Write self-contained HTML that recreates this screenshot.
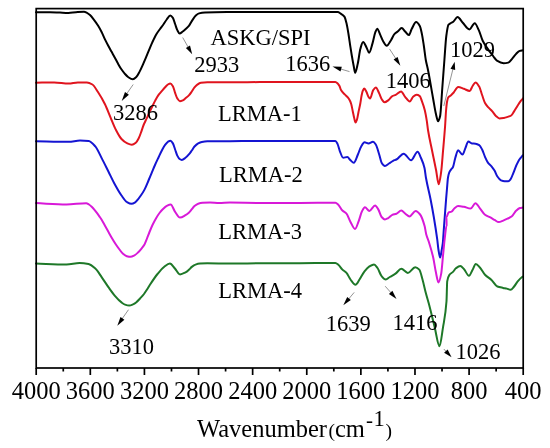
<!DOCTYPE html>
<html><head><meta charset="utf-8"><style>
html,body{margin:0;padding:0;background:#fff;}
body{width:550px;height:448px;overflow:hidden;}
svg{display:block;filter:blur(0.3px);}
text{font-family:"Liberation Serif",serif;fill:#000;}
</style></head><body>
<svg width="550" height="448" viewBox="0 0 550 448">
<rect x="0" y="0" width="550" height="448" fill="#fff"/>
<g fill="none" stroke-width="2" stroke-linejoin="round" stroke-linecap="round">
<path d="M36.00 12.30C40.67 12.27 45.33 12.20 50.00 12.20C53.33 12.20 56.67 12.47 60.00 12.60C62.80 12.71 65.60 12.90 68.40 12.90C70.93 12.90 73.47 12.36 76.00 12.20C78.67 12.03 81.33 11.80 84.00 11.80C85.00 11.80 86.00 12.34 87.00 12.80C88.00 13.26 89.00 14.10 90.00 15.00C91.33 16.20 92.67 18.06 94.00 19.80C95.33 21.54 96.67 23.37 98.00 25.50C99.20 27.42 100.40 29.63 101.60 32.00C102.77 34.30 103.93 37.21 105.10 39.60C106.20 41.85 107.30 43.93 108.40 46.00C109.37 47.82 110.33 49.55 111.30 51.30C112.43 53.35 113.57 55.32 114.70 57.40C115.80 59.42 116.90 61.65 118.00 63.60C119.13 65.61 120.27 67.64 121.40 69.30C122.50 70.91 123.60 72.35 124.70 73.60C125.83 74.88 126.97 76.24 128.10 77.00C129.67 78.05 131.23 79.30 132.80 79.30C133.97 79.30 135.13 78.10 136.30 77.00C137.40 75.96 138.50 73.64 139.60 71.60C140.67 69.63 141.73 67.17 142.80 64.80C143.83 62.51 144.87 60.03 145.90 57.60C146.93 55.17 147.97 52.65 149.00 50.20C150.10 47.59 151.20 44.80 152.30 42.40C153.60 39.56 154.90 36.69 156.20 34.50C157.47 32.36 158.73 30.75 160.00 29.00C161.13 27.43 162.27 26.10 163.40 24.50C164.50 22.95 165.60 20.89 166.70 19.50C167.90 17.98 169.10 15.60 170.30 15.60C171.17 15.60 172.03 16.65 172.90 17.80C173.63 18.77 174.37 21.95 175.10 24.00C175.83 26.05 176.57 28.68 177.30 30.10C178.07 31.58 178.83 33.50 179.60 33.50C180.53 33.50 181.47 32.46 182.40 31.80C183.50 31.02 184.60 30.01 185.70 29.00C186.83 27.96 187.97 27.02 189.10 25.60C190.20 24.22 191.30 21.72 192.40 20.10C193.53 18.43 194.67 16.60 195.80 15.60C196.90 14.63 198.00 13.69 199.10 13.40C201.07 12.88 203.03 12.60 205.00 12.50C208.33 12.32 211.67 12.25 215.00 12.20C223.33 12.09 231.67 12.00 240.00 12.00C250.00 12.00 260.00 12.00 270.00 12.00C280.00 12.00 290.00 12.00 300.00 12.00C312.63 12.00 325.27 12.01 337.90 12.10C338.73 12.11 339.57 12.88 340.40 13.40C341.73 14.24 343.07 14.85 344.40 16.70C345.07 17.62 345.73 20.21 346.40 22.80C347.07 25.39 347.73 29.53 348.40 33.50C349.07 37.47 349.73 42.61 350.40 46.90C350.83 49.69 351.27 52.46 351.70 55.00C352.37 58.91 353.03 62.57 353.70 66.00C354.17 68.40 354.63 72.80 355.10 72.80C356.00 72.80 356.90 67.37 357.80 63.50C358.67 59.77 359.53 51.70 360.40 48.70C361.30 45.58 362.20 42.00 363.10 42.00C364.23 42.00 365.37 45.35 366.50 47.40C367.37 48.97 368.23 52.80 369.10 52.80C370.23 52.80 371.37 47.12 372.50 43.40C373.40 40.45 374.30 35.01 375.20 32.70C375.87 30.99 376.53 28.80 377.20 28.80C378.30 28.80 379.40 33.07 380.50 35.40C381.33 37.17 382.17 39.61 383.00 41.00C384.23 43.06 385.47 45.80 386.70 45.80C388.13 45.80 389.57 42.38 391.00 40.20C392.13 38.48 393.27 35.34 394.40 34.10C395.50 32.90 396.60 32.40 397.70 31.50C399.03 30.41 400.37 28.10 401.70 28.10C402.83 28.10 403.97 30.38 405.10 31.50C406.33 32.72 407.57 35.10 408.80 35.10C409.80 35.10 410.80 30.60 411.80 28.80C413.23 26.21 414.67 22.10 416.10 22.10C417.33 22.10 418.57 23.92 419.80 26.10C420.47 27.28 421.13 30.45 421.80 33.50C422.47 36.55 423.13 41.12 423.80 45.50C424.47 49.88 425.13 56.26 425.80 60.00C426.53 64.11 427.27 66.37 428.00 70.00C429.67 78.25 431.33 88.82 433.00 98.00C434.00 103.51 435.00 110.23 436.00 114.30C436.70 117.15 437.40 121.30 438.10 121.30C438.77 121.30 439.43 119.06 440.10 116.30C440.83 113.26 441.57 97.60 442.30 88.00C443.00 78.83 443.70 69.08 444.40 60.00C445.03 51.79 445.67 40.67 446.30 36.00C447.03 30.59 447.77 25.63 448.50 24.70C449.13 23.90 449.77 23.69 450.40 23.30C451.37 22.71 452.33 22.47 453.30 21.80C454.70 20.83 456.10 17.10 457.50 17.10C459.27 17.10 461.03 20.97 462.80 22.80C465.00 25.08 467.20 29.40 469.40 29.40C471.17 29.40 472.93 23.30 474.70 23.30C476.10 23.30 477.50 27.46 478.90 30.40C480.17 33.06 481.43 38.20 482.70 40.80C484.27 44.01 485.83 46.10 487.40 48.40C489.30 51.19 491.20 53.57 493.10 56.00C494.37 57.62 495.63 59.94 496.90 60.70C499.13 62.05 501.37 63.20 503.60 63.20C505.17 63.20 506.73 62.96 508.30 62.60C509.57 62.31 510.83 60.20 512.10 58.80C513.37 57.40 514.63 55.37 515.90 54.10C517.17 52.83 518.43 51.27 519.70 50.90C520.80 50.58 521.90 50.50 523.00 50.30" stroke="#000000"/>
<path d="M36.00 82.70C42.07 82.60 48.13 82.40 54.20 82.40C59.03 82.40 63.87 83.60 68.70 83.60C71.73 83.60 74.77 82.40 77.80 82.40C80.83 82.40 83.87 82.40 86.90 82.40C88.73 82.40 90.57 83.41 92.40 84.50C94.20 85.57 96.00 89.08 97.80 91.80C100.23 95.48 102.67 99.58 105.10 104.50C106.90 108.14 108.70 113.09 110.50 117.30C112.33 121.59 114.17 126.49 116.00 130.00C117.83 133.51 119.67 137.07 121.50 139.00C123.30 140.90 125.10 142.38 126.90 143.20C128.53 143.95 130.17 144.80 131.80 144.80C133.13 144.80 134.47 143.84 135.80 142.80C136.73 142.07 137.67 140.29 138.60 138.50C139.40 136.97 140.20 134.64 141.00 132.50C141.87 130.18 142.73 127.13 143.60 125.00C144.63 122.46 145.67 120.68 146.70 118.40C147.63 116.34 148.57 113.99 149.50 112.00C150.47 109.94 151.43 108.13 152.40 106.20C153.33 104.33 154.27 102.33 155.20 100.60C156.27 98.62 157.33 96.60 158.40 95.10C159.50 93.56 160.60 92.48 161.70 91.20C162.83 89.88 163.97 88.51 165.10 87.30C166.03 86.30 166.97 85.08 167.90 84.50C168.70 84.00 169.50 83.40 170.30 83.40C171.17 83.40 172.03 84.80 172.90 86.20C173.63 87.38 174.37 90.89 175.10 92.90C175.83 94.91 176.57 97.28 177.30 98.40C178.17 99.72 179.03 101.20 179.90 101.20C180.90 101.20 181.90 100.74 182.90 100.30C183.77 99.92 184.63 99.01 185.50 98.30C186.70 97.31 187.90 96.39 189.10 95.10C190.00 94.13 190.90 92.78 191.80 91.50C192.70 90.22 193.60 88.49 194.50 87.40C195.43 86.27 196.37 85.23 197.30 84.60C198.50 83.79 199.70 82.97 200.90 82.80C203.03 82.49 205.17 82.30 207.30 82.30C214.87 82.30 222.43 82.30 230.00 82.30C240.00 82.30 250.00 82.14 260.00 82.10C273.33 82.05 286.67 82.04 300.00 82.00C311.80 81.97 323.60 81.90 335.40 81.90C336.17 81.90 336.93 82.70 337.70 83.40C338.30 83.95 338.90 84.86 339.50 86.00C340.00 86.95 340.50 89.24 341.00 90.10C342.23 92.23 343.47 93.10 344.70 94.40C345.80 95.56 346.90 96.24 348.00 97.60C348.57 98.30 349.13 99.20 349.70 100.30C350.20 101.27 350.70 102.39 351.20 104.00C351.73 105.72 352.27 109.01 352.80 111.50C353.27 113.68 353.73 116.13 354.20 118.00C354.63 119.74 355.07 122.60 355.50 122.60C356.00 122.60 356.50 120.96 357.00 119.50C357.50 118.04 358.00 114.43 358.50 112.00C359.10 109.08 359.70 106.73 360.30 103.50C360.73 101.17 361.17 97.55 361.60 95.50C362.03 93.45 362.47 91.37 362.90 90.50C363.37 89.56 363.83 88.60 364.30 88.60C365.03 88.60 365.77 90.59 366.50 92.00C367.10 93.16 367.70 95.51 368.30 96.50C368.87 97.43 369.43 98.60 370.00 98.60C371.07 98.60 372.13 91.67 373.20 90.10C374.07 88.83 374.93 87.40 375.80 87.40C376.93 87.40 378.07 91.14 379.20 93.40C380.10 95.19 381.00 98.19 381.90 99.50C382.77 100.76 383.63 102.30 384.50 102.30C385.83 102.30 387.17 101.06 388.50 100.10C389.80 99.17 391.10 96.83 392.40 96.10C393.50 95.48 394.60 95.32 395.70 94.80C397.50 93.94 399.30 91.40 401.10 91.40C402.43 91.40 403.77 95.26 405.10 96.80C406.67 98.61 408.23 101.50 409.80 101.50C410.90 101.50 412.00 97.72 413.10 96.80C414.23 95.85 415.37 94.80 416.50 94.80C417.60 94.80 418.70 95.31 419.80 96.10C420.47 96.58 421.13 99.03 421.80 100.80C422.80 103.46 423.80 106.18 424.80 110.20C425.47 112.88 426.13 116.66 426.80 120.90C427.20 123.45 427.60 127.48 428.00 130.00C429.33 138.39 430.67 143.57 432.00 150.20C433.37 157.00 434.73 163.26 436.10 170.30C436.97 174.76 437.83 184.30 438.70 184.30C439.50 184.30 440.30 177.87 441.10 172.30C441.77 167.66 442.43 157.90 443.10 150.20C443.77 142.50 444.43 135.33 445.10 126.00C445.43 121.33 445.77 113.79 446.10 110.00C446.40 106.59 446.70 103.61 447.00 102.00C447.40 99.85 447.80 98.08 448.20 97.50C449.07 96.25 449.93 96.17 450.80 95.40C451.77 94.54 452.73 93.57 453.70 92.50C455.17 90.88 456.63 87.00 458.10 87.00C460.03 87.00 461.97 88.14 463.90 88.80C465.83 89.46 467.77 91.00 469.70 91.00C470.67 91.00 471.63 87.37 472.60 86.00C473.57 84.63 474.53 82.50 475.50 82.50C476.73 82.50 477.97 84.59 479.20 86.60C480.17 88.18 481.13 92.27 482.10 95.00C483.07 97.73 484.03 101.26 485.00 103.00C486.20 105.15 487.40 106.34 488.60 107.70C489.83 109.10 491.07 110.02 492.30 111.40C493.50 112.75 494.70 114.95 495.90 116.00C497.10 117.05 498.30 118.40 499.50 118.40C500.97 118.40 502.43 118.14 503.90 117.90C505.10 117.70 506.30 117.28 507.50 116.90C508.73 116.51 509.97 116.25 511.20 115.50C512.17 114.91 513.13 112.86 514.10 111.40C515.30 109.58 516.50 107.36 517.70 105.50C518.67 104.00 519.63 102.48 520.60 101.20C521.40 100.14 522.20 99.27 523.00 98.30" stroke="#e0141e"/>
<path d="M36.00 141.30C46.90 141.47 57.80 141.80 68.70 141.80C72.47 141.80 76.23 140.50 80.00 140.50C82.90 140.50 85.80 140.64 88.70 140.90C90.90 141.10 93.10 143.87 95.30 146.40C97.47 148.89 99.63 154.26 101.80 158.40C104.00 162.61 106.20 167.12 108.40 171.50C110.57 175.82 112.73 180.56 114.90 184.50C117.10 188.50 119.30 192.44 121.50 195.50C123.30 198.00 125.10 200.95 126.90 202.00C128.43 202.89 129.97 203.80 131.50 203.80C132.73 203.80 133.97 203.11 135.20 202.40C136.13 201.86 137.07 200.43 138.00 199.30C139.00 198.09 140.00 196.76 141.00 195.30C142.17 193.59 143.33 191.81 144.50 189.60C145.90 186.95 147.30 183.28 148.70 180.00C149.63 177.81 150.57 175.52 151.50 173.30C152.67 170.52 153.83 167.63 155.00 165.00C156.17 162.37 157.33 159.96 158.50 157.50C159.70 154.96 160.90 152.26 162.10 150.00C163.10 148.11 164.10 146.12 165.10 144.80C166.03 143.57 166.97 142.33 167.90 141.80C168.77 141.31 169.63 140.80 170.50 140.80C171.30 140.80 172.10 142.15 172.90 143.40C173.63 144.55 174.37 147.47 175.10 149.50C175.83 151.53 176.57 154.18 177.30 155.60C178.07 157.08 178.83 158.51 179.60 159.00C180.33 159.47 181.07 159.90 181.80 159.90C183.03 159.90 184.27 158.69 185.50 157.80C186.70 156.93 187.90 155.60 189.10 154.20C190.00 153.15 190.90 151.78 191.80 150.50C192.70 149.22 193.60 147.50 194.50 146.50C195.73 145.13 196.97 143.96 198.20 143.30C199.40 142.66 200.60 142.11 201.80 141.90C203.63 141.57 205.47 141.32 207.30 141.30C214.87 141.22 222.43 141.24 230.00 141.20C240.00 141.15 250.00 141.00 260.00 141.00C273.33 141.00 286.67 141.00 300.00 141.00C311.80 141.00 323.60 140.90 335.40 140.90C336.10 140.90 336.80 142.54 337.50 143.90C338.30 145.45 339.10 149.35 339.90 151.30C341.00 153.98 342.10 157.80 343.20 157.80C344.57 157.80 345.93 157.00 347.30 157.00C348.37 157.00 349.43 159.39 350.50 160.30C351.60 161.24 352.70 162.70 353.80 162.70C355.17 162.70 356.53 157.52 357.90 154.50C359.00 152.07 360.10 148.21 361.20 146.40C362.30 144.59 363.40 142.30 364.50 142.30C365.83 142.30 367.17 143.40 368.50 143.40C370.00 143.40 371.50 141.80 373.00 141.80C373.97 141.80 374.93 143.27 375.90 144.70C377.00 146.33 378.10 150.99 379.20 154.50C380.00 157.05 380.80 161.43 381.60 162.70C382.70 164.45 383.80 166.00 384.90 166.00C386.27 166.00 387.63 164.37 389.00 163.50C390.37 162.63 391.73 161.47 393.10 160.80C394.20 160.26 395.30 160.06 396.40 159.50C398.83 158.27 401.27 153.70 403.70 153.70C406.17 153.70 408.63 160.30 411.10 160.30C413.27 160.30 415.43 151.80 417.60 151.80C418.73 151.80 419.87 155.48 421.00 158.00C422.17 160.59 423.33 163.07 424.50 168.00C425.00 170.11 425.50 175.17 426.00 178.00C427.50 186.48 429.00 191.42 430.50 199.00C431.60 204.56 432.70 210.46 433.80 217.00C434.93 223.73 436.07 230.76 437.20 239.20C437.63 242.43 438.07 247.38 438.50 250.00C439.03 253.23 439.57 257.50 440.10 257.50C440.63 257.50 441.17 252.87 441.70 250.00C442.07 248.03 442.43 246.33 442.80 243.20C443.17 240.07 443.53 233.04 443.90 228.10C444.63 218.22 445.37 208.15 446.10 199.10C446.40 195.40 446.70 191.91 447.00 188.50C447.33 184.71 447.67 179.50 448.00 177.50C448.43 174.91 448.87 173.30 449.30 172.30C449.87 170.99 450.43 170.41 451.00 169.60C451.67 168.64 452.33 168.29 453.00 167.00C453.73 165.58 454.47 160.70 455.20 158.30C456.17 155.13 457.13 150.30 458.10 150.30C459.57 150.30 461.03 154.60 462.50 154.60C463.47 154.60 464.43 150.28 465.40 148.10C466.37 145.92 467.33 141.50 468.30 141.50C469.50 141.50 470.70 143.38 471.90 143.50C473.10 143.62 474.30 143.58 475.50 143.70C476.73 143.82 477.97 144.40 479.20 145.20C480.17 145.83 481.13 147.70 482.10 149.50C483.07 151.30 484.03 154.65 485.00 156.80C485.97 158.95 486.93 161.27 487.90 162.60C489.10 164.25 490.30 164.86 491.50 166.30C492.50 167.50 493.50 168.92 494.50 170.60C495.47 172.23 496.43 175.12 497.40 176.50C498.60 178.22 499.80 179.91 501.00 180.40C502.20 180.89 503.40 181.30 504.60 181.30C505.83 181.30 507.07 181.30 508.30 181.30C509.03 181.30 509.77 180.30 510.50 179.40C511.47 178.21 512.43 175.11 513.40 172.80C514.37 170.49 515.33 167.65 516.30 165.50C517.27 163.35 518.23 161.15 519.20 159.70C520.47 157.79 521.73 156.70 523.00 155.20" stroke="#1414d2"/>
<path d="M36.00 203.10C46.17 203.53 56.33 204.40 66.50 204.40C73.07 204.40 79.63 203.20 86.20 203.20C87.13 203.20 88.07 203.95 89.00 204.50C89.90 205.03 90.80 205.86 91.70 206.70C92.63 207.58 93.57 208.68 94.50 209.80C95.37 210.84 96.23 212.02 97.10 213.20C97.90 214.29 98.70 215.44 99.50 216.60C100.27 217.71 101.03 218.76 101.80 220.00C102.87 221.73 103.93 223.89 105.00 225.80C106.17 227.89 107.33 229.93 108.50 232.00C109.67 234.07 110.83 236.23 112.00 238.20C113.30 240.40 114.60 242.56 115.90 244.50C117.10 246.29 118.30 247.94 119.50 249.50C120.67 251.02 121.83 252.82 123.00 253.80C124.27 254.86 125.53 255.88 126.80 256.20C128.07 256.52 129.33 256.80 130.60 256.80C131.90 256.80 133.20 255.98 134.50 255.30C135.67 254.69 136.83 253.59 138.00 252.50C139.10 251.47 140.20 250.15 141.30 248.80C142.37 247.50 143.43 246.36 144.50 244.50C145.33 243.05 146.17 240.58 147.00 238.50C147.83 236.42 148.67 234.05 149.50 232.00C150.50 229.54 151.50 227.09 152.50 225.00C153.70 222.49 154.90 220.23 156.10 218.20C157.23 216.29 158.37 214.48 159.50 213.00C160.67 211.47 161.83 210.11 163.00 209.00C164.27 207.79 165.53 206.53 166.80 205.90C168.10 205.25 169.40 204.50 170.70 204.50C172.07 204.50 173.43 209.37 174.80 211.30C176.53 213.74 178.27 217.60 180.00 217.60C181.83 217.60 183.67 216.16 185.50 215.10C186.70 214.41 187.90 213.51 189.10 212.40C190.00 211.56 190.90 210.27 191.80 209.20C192.70 208.13 193.60 206.75 194.50 206.00C195.73 204.98 196.97 204.08 198.20 203.70C199.70 203.24 201.20 202.94 202.70 202.80C205.13 202.58 207.57 202.40 210.00 202.40C213.03 202.40 216.07 203.10 219.10 203.10C222.73 203.10 226.37 202.60 230.00 202.60C240.00 202.60 250.00 203.00 260.00 203.00C273.33 203.00 286.67 203.00 300.00 203.00C311.80 203.00 323.60 202.70 335.40 202.70C336.37 202.70 337.33 203.82 338.30 204.70C339.67 205.94 341.03 209.13 342.40 210.50C343.77 211.87 345.13 212.15 346.50 213.70C347.83 215.21 349.17 219.54 350.50 221.90C352.00 224.56 353.50 228.90 355.00 228.90C356.23 228.90 357.47 224.15 358.70 221.10C359.80 218.38 360.90 213.39 362.00 211.30C362.97 209.46 363.93 207.20 364.90 207.20C366.40 207.20 367.90 210.90 369.40 210.90C371.30 210.90 373.20 205.50 375.10 205.50C376.20 205.50 377.30 207.82 378.40 209.60C379.47 211.33 380.53 215.78 381.60 217.00C382.70 218.26 383.80 219.50 384.90 219.50C386.00 219.50 387.10 218.70 388.20 218.10C389.57 217.36 390.93 215.48 392.30 214.90C393.67 214.32 395.03 214.25 396.40 213.70C398.03 213.05 399.67 210.50 401.30 210.50C402.67 210.50 404.03 212.70 405.40 213.70C406.77 214.70 408.13 216.50 409.50 216.50C411.57 216.50 413.63 210.90 415.70 210.90C417.17 210.90 418.63 212.69 420.10 214.50C421.60 216.36 423.10 220.60 424.60 226.00C425.13 227.92 425.67 232.19 426.20 234.20C427.03 237.34 427.87 238.77 428.70 241.40C430.20 246.14 431.70 250.87 433.20 257.50C434.07 261.33 434.93 267.80 435.80 271.80C436.70 275.95 437.60 282.50 438.50 282.50C439.40 282.50 440.30 278.21 441.20 273.60C441.80 270.53 442.40 261.65 443.00 255.70C443.60 249.75 444.20 242.80 444.80 237.90C445.40 233.00 446.00 225.40 446.60 225.40C446.57 225.40 446.53 217.00 446.50 217.00C447.20 217.00 447.90 212.62 448.60 212.30C449.57 211.86 450.53 211.98 451.50 211.60C452.50 211.21 453.50 209.09 454.50 208.30C455.70 207.35 456.90 206.10 458.10 206.10C460.03 206.10 461.97 206.48 463.90 206.80C466.10 207.17 468.30 208.60 470.50 208.60C472.17 208.60 473.83 203.20 475.50 203.20C476.97 203.20 478.43 206.52 479.90 208.30C481.60 210.36 483.30 213.57 485.00 214.80C486.93 216.20 488.87 216.64 490.80 217.70C492.03 218.37 493.27 219.22 494.50 219.90C495.93 220.69 497.37 222.10 498.80 222.10C500.27 222.10 501.73 221.16 503.20 220.60C504.63 220.05 506.07 219.40 507.50 218.70C508.97 217.98 510.43 217.43 511.90 216.30C513.37 215.17 514.83 211.82 516.30 210.50C517.50 209.42 518.70 208.31 519.90 208.00C520.93 207.73 521.97 207.67 523.00 207.50" stroke="#d819d8"/>
<path d="M36.00 263.50C46.17 263.87 56.33 264.60 66.50 264.60C70.87 264.60 75.23 263.10 79.60 263.10C82.57 263.10 85.53 263.46 88.50 264.00C90.77 264.41 93.03 266.48 95.30 268.50C97.47 270.43 99.63 274.23 101.80 277.30C104.00 280.42 106.20 284.00 108.40 287.10C110.57 290.15 112.73 293.32 114.90 295.80C117.10 298.32 119.30 300.74 121.50 302.40C122.67 303.28 123.83 304.22 125.00 304.60C126.40 305.05 127.80 305.50 129.20 305.50C130.47 305.50 131.73 304.91 133.00 304.40C134.13 303.94 135.27 303.10 136.40 302.20C137.60 301.25 138.80 299.79 140.00 298.50C141.33 297.07 142.67 295.73 144.00 294.00C145.00 292.71 146.00 291.05 147.00 289.50C147.93 288.05 148.87 286.42 149.80 285.00C152.37 281.08 154.93 277.14 157.50 274.00C159.67 271.35 161.83 268.65 164.00 267.00C165.97 265.50 167.93 263.50 169.90 263.50C171.57 263.50 173.23 266.71 174.90 268.50C176.60 270.32 178.30 274.40 180.00 274.40C181.83 274.40 183.67 273.33 185.50 272.40C186.70 271.79 187.90 270.66 189.10 269.60C190.00 268.81 190.90 267.60 191.80 266.90C193.03 265.94 194.27 265.01 195.50 264.60C197.00 264.10 198.50 263.71 200.00 263.60C202.43 263.42 204.87 263.30 207.30 263.30C214.87 263.30 222.43 263.50 230.00 263.50C240.00 263.50 250.00 263.34 260.00 263.30C273.33 263.25 286.67 263.25 300.00 263.20C311.80 263.16 323.60 263.00 335.40 263.00C336.37 263.00 337.33 263.95 338.30 264.70C339.67 265.75 341.03 268.29 342.40 269.60C343.77 270.91 345.13 271.42 346.50 272.90C347.83 274.34 349.17 277.78 350.50 279.50C352.17 281.64 353.83 284.70 355.50 284.70C356.83 284.70 358.17 281.43 359.50 279.50C361.17 277.09 362.83 273.37 364.50 271.30C366.13 269.27 367.77 267.39 369.40 266.40C370.93 265.47 372.47 264.40 374.00 264.40C375.17 264.40 376.33 266.43 377.50 268.00C378.87 269.84 380.23 274.63 381.60 276.20C382.97 277.77 384.33 279.50 385.70 279.50C387.07 279.50 388.43 277.81 389.80 277.00C391.70 275.87 393.60 275.00 395.50 273.70C397.43 272.37 399.37 268.80 401.30 268.80C403.47 268.80 405.63 272.90 407.80 272.90C410.27 272.90 412.73 267.20 415.20 267.20C416.57 267.20 417.93 268.22 419.30 269.60C420.37 270.68 421.43 275.75 422.50 279.50C423.57 283.25 424.63 288.44 425.70 292.50C426.73 296.43 427.77 299.71 428.80 303.60C430.77 311.00 432.73 319.48 434.70 327.30C436.30 333.66 437.90 346.20 439.50 346.20C440.67 346.20 441.83 334.60 443.00 327.30C444.17 320.00 445.33 317.10 446.50 301.30C446.73 298.14 446.97 282.87 447.20 281.40C447.93 276.77 448.67 275.78 449.40 274.80C450.60 273.20 451.80 273.08 453.00 271.90C453.97 270.95 454.93 269.01 455.90 268.30C457.37 267.22 458.83 266.10 460.30 266.10C461.50 266.10 462.70 267.81 463.90 269.00C465.60 270.68 467.30 275.80 469.00 275.80C470.20 275.80 471.40 271.80 472.60 269.70C473.67 267.83 474.73 263.90 475.80 263.90C477.17 263.90 478.53 266.03 479.90 267.50C481.60 269.33 483.30 273.06 485.00 274.80C487.17 277.02 489.33 277.90 491.50 279.90C493.47 281.72 495.43 285.72 497.40 286.50C499.33 287.27 501.27 287.49 503.20 287.90C504.40 288.16 505.60 288.31 506.80 288.60C508.03 288.90 509.27 289.80 510.50 289.80C511.70 289.80 512.90 287.84 514.10 286.50C515.30 285.16 516.50 282.82 517.70 281.40C519.17 279.67 520.63 277.99 522.10 277.00C522.40 276.80 522.70 276.67 523.00 276.50" stroke="#1e7828"/>
</g>
<rect x="36.2" y="8.6" width="487.0" height="359.4" fill="none" stroke="#000" stroke-width="1.7"/>
<g stroke="#000" stroke-width="1.7">
<line x1="36.20" y1="368.0" x2="36.20" y2="375.0"/>
<line x1="63.26" y1="368.0" x2="63.26" y2="371.5"/>
<line x1="90.31" y1="368.0" x2="90.31" y2="375.0"/>
<line x1="117.37" y1="368.0" x2="117.37" y2="371.5"/>
<line x1="144.42" y1="368.0" x2="144.42" y2="375.0"/>
<line x1="171.48" y1="368.0" x2="171.48" y2="371.5"/>
<line x1="198.53" y1="368.0" x2="198.53" y2="375.0"/>
<line x1="225.59" y1="368.0" x2="225.59" y2="371.5"/>
<line x1="252.64" y1="368.0" x2="252.64" y2="375.0"/>
<line x1="279.70" y1="368.0" x2="279.70" y2="371.5"/>
<line x1="306.76" y1="368.0" x2="306.76" y2="375.0"/>
<line x1="333.81" y1="368.0" x2="333.81" y2="371.5"/>
<line x1="360.87" y1="368.0" x2="360.87" y2="375.0"/>
<line x1="387.92" y1="368.0" x2="387.92" y2="371.5"/>
<line x1="414.98" y1="368.0" x2="414.98" y2="375.0"/>
<line x1="442.03" y1="368.0" x2="442.03" y2="371.5"/>
<line x1="469.09" y1="368.0" x2="469.09" y2="375.0"/>
<line x1="496.14" y1="368.0" x2="496.14" y2="371.5"/>
<line x1="523.20" y1="368.0" x2="523.20" y2="375.0"/>
</g>
<g>
<line x1="182.7" y1="37.5" x2="188.4" y2="47.6" stroke="#888" stroke-width="0.9"/>
<polygon points="192.2,54.2 185.9,47.9 190.0,45.5" fill="#000"/>
<line x1="133.2" y1="84.5" x2="126.4" y2="94.2" stroke="#888" stroke-width="0.9"/>
<polygon points="121.7,100.9 125.0,92.0 128.9,94.7" fill="#000"/>
<line x1="349.5" y1="71.6" x2="340.2" y2="68.9" stroke="#888" stroke-width="0.9"/>
<polygon points="332.5,66.6 341.8,66.8 340.5,71.4" fill="#000"/>
<line x1="389.5" y1="48.9" x2="396.2" y2="59.2" stroke="#888" stroke-width="0.9"/>
<polygon points="400.4,65.7 393.6,59.6 397.6,57.0" fill="#000"/>
<line x1="443.8" y1="106.0" x2="453.1" y2="68.4" stroke="#888" stroke-width="0.9"/>
<polygon points="454.7,61.8 455.2,69.9 450.5,68.8" fill="#000"/>
<line x1="128.5" y1="309.7" x2="121.9" y2="319.1" stroke="#888" stroke-width="0.9"/>
<polygon points="117.3,325.7 120.5,317.0 124.4,319.7" fill="#000"/>
<line x1="354.2" y1="292.4" x2="348.4" y2="299.3" stroke="#888" stroke-width="0.9"/>
<polygon points="343.3,305.2 347.2,296.9 350.8,300.1" fill="#000"/>
<line x1="385.2" y1="286.2" x2="391.3" y2="293.1" stroke="#888" stroke-width="0.9"/>
<polygon points="396.5,298.9 388.9,293.9 392.4,290.7" fill="#000"/>
<line x1="443.8" y1="349.0" x2="446.5" y2="351.9" stroke="#888" stroke-width="0.9"/>
<polygon points="451.6,357.3 444.1,352.8 447.6,349.5" fill="#000"/>
</g>
<g font-size="22.5" text-anchor="middle">
<text x="260.6" y="44.9">ASKG/SPI</text>
<text x="216.8" y="71.5">2933</text>
<text x="307.8" y="71.1">1636</text>
<text x="408.2" y="88.4">1406</text>
<text x="472.4" y="57.0">1029</text>
<text x="135.4" y="119.5">3286</text>
<text x="259.8" y="121.0">LRMA-1</text>
<text x="260.8" y="181.9">LRMA-2</text>
<text x="260.2" y="238.7">LRMA-3</text>
<text x="260.2" y="297.9">LRMA-4</text>
<text x="131.6" y="354.1">3310</text>
<text x="348.2" y="330.5">1639</text>
<text x="415.0" y="329.7">1416</text>
<text x="478.0" y="358.5">1026</text>
</g>
<g font-size="24.5" text-anchor="middle">
<text x="36.20" y="399.0">4000</text>
<text x="90.31" y="399.0">3600</text>
<text x="144.42" y="399.0">3200</text>
<text x="198.53" y="399.0">2800</text>
<text x="252.64" y="399.0">2400</text>
<text x="306.76" y="399.0">2000</text>
<text x="360.87" y="399.0">1600</text>
<text x="414.98" y="399.0">1200</text>
<text x="469.09" y="399.0">800</text>
<text x="523.20" y="399.0">400</text>
</g>
<g font-size="24.5"><text x="197" y="437.2">Wavenumber</text>
<text x="328.5" y="436.6" font-size="19.5">(</text>
<text x="335" y="437.2">cm</text>
<text x="366" y="426.6" font-size="21">-</text>
<text x="373.6" y="426.3" font-size="22.5">1</text>
<text x="385.5" y="436.6" font-size="19.5">)</text></g>
</svg>
</body></html>
